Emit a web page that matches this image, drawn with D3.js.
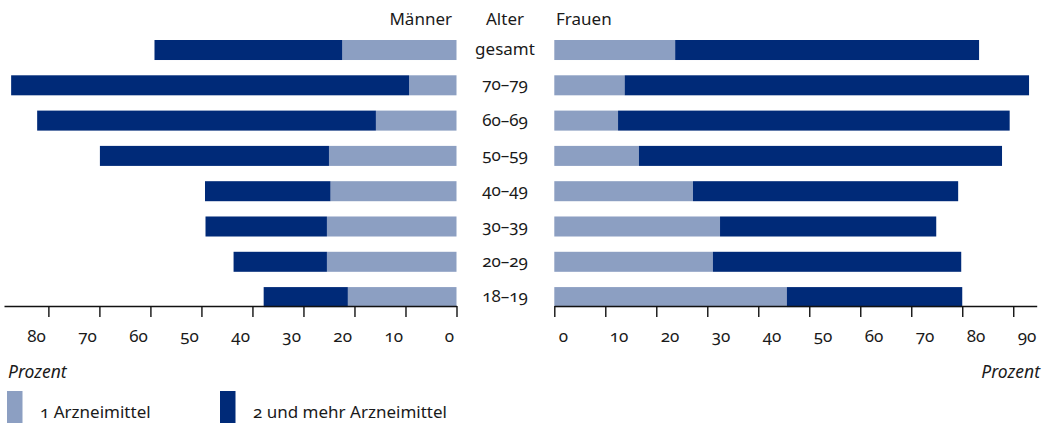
<!DOCTYPE html>
<html>
<head>
<meta charset="utf-8">
<script src="https://d3js.org/d3.v7.min.js"></script>
<style>
  body { margin: 0; background: #fff; }
  svg { display: block; font-family: "Noto Sans", "Open Sans", sans-serif; }
  text { fill: #1a1a1a; font-variant-numeric: oldstyle-nums; }
  .axis path, .axis line { stroke: #111; stroke-width: 1.4; }
  .axis text { font-size: 17px; }
</style>
</head>
<body>
<div id="chart"></div>
<script>
  // age groups, top to bottom
  var ageGroups = ["gesamt", "70–79", "60–69", "50–59", "40–49", "30–39", "20–29", "18–19"];

  // Männer: share with 1 drug and with 2+ drugs (percent)
  var menOne  = [22.4,  9.3, 15.8, 25.0, 24.7, 25.4, 25.4, 21.3];
  var menMore = [36.8, 78.0, 66.4, 44.9, 24.6, 23.8, 18.3, 16.5];

  // Frauen
  var womenOne  = [23.7, 13.8, 12.5, 16.6, 27.2, 32.5, 31.1, 45.6];
  var womenMore = [59.6, 79.3, 76.8, 71.2, 52.0, 42.4, 48.7, 34.4];

  var menTicks = [0, 10, 20, 30, 40, 50, 60, 70, 80];
  var womenTicks = [0, 10, 20, 30, 40, 50, 60, 70, 80, 90];

  var legendLabels = ["1 Arzneimittel", "2 und mehr Arzneimittel"];
  var colorOne = "#8c9fc2", colorMore = "#002a78";

  var width = 1052, height = 423,
    axisY = 306;

  var svg = d3.select("#chart").append("svg")
    .attr("width", width).attr("height", height);

  var xMen = d3.scaleLinear().domain([0, 88.7]).range([456.5, 4]);
  var xWomen = d3.scaleLinear().domain([0, 94.6]).range([554.3, 1036.7]);

  var y = d3.scaleBand().domain(ageGroups)
    .range([40, 307.1]).paddingInner(0.433).paddingOuter(0);

  var rows = ageGroups.map(function (g, i) {
    return {group: g, m1: menOne[i], m2: menMore[i], w1: womenOne[i], w2: womenMore[i]};
  });

  // men bars (growing leftwards)
  var men = svg.append("g");
  men.selectAll(".one").data(rows).enter().append("rect")
    .attr("x", function (d) { return xMen(d.m1); })
    .attr("y", function (d) { return y(d.group); })
    .attr("width", function (d) { return xMen(0) - xMen(d.m1); })
    .attr("height", y.bandwidth())
    .attr("fill", colorOne);
  men.selectAll(".more").data(rows).enter().append("rect")
    .attr("x", function (d) { return xMen(d.m1 + d.m2); })
    .attr("y", function (d) { return y(d.group); })
    .attr("width", function (d) { return xMen(d.m1) - xMen(d.m1 + d.m2); })
    .attr("height", y.bandwidth())
    .attr("fill", colorMore);

  // women bars
  var women = svg.append("g");
  women.selectAll(".one").data(rows).enter().append("rect")
    .attr("x", xWomen(0))
    .attr("y", function (d) { return y(d.group); })
    .attr("width", function (d) { return xWomen(d.w1) - xWomen(0); })
    .attr("height", y.bandwidth())
    .attr("fill", colorOne);
  women.selectAll(".more").data(rows).enter().append("rect")
    .attr("x", function (d) { return xWomen(d.w1); })
    .attr("y", function (d) { return y(d.group); })
    .attr("width", function (d) { return xWomen(d.w1 + d.w2) - xWomen(d.w1); })
    .attr("height", y.bandwidth())
    .attr("fill", colorMore);

  // age labels in the middle
  svg.append("g").selectAll("text").data(ageGroups).enter().append("text")
    .attr("x", 505)
    .attr("y", function (d) { return y(d) + y.bandwidth() / 2; })
    .attr("dy", "0.3em")
    .attr("text-anchor", "middle")
    .style("font-size", "17px")
    .text(function (d) { return d; });

  // headers
  svg.append("text").attr("x", 452).attr("y", 25).attr("text-anchor", "end")
    .style("font-size", "17px").text("Männer");
  svg.append("text").attr("x", 505).attr("y", 25).attr("text-anchor", "middle")
    .style("font-size", "17px").text("Alter");
  svg.append("text").attr("x", 556).attr("y", 25)
    .style("font-size", "17px").text("Frauen");

  // axes
  var axMen = svg.append("g").attr("class", "axis")
    .attr("transform", "translate(0," + axisY + ")")
    .call(d3.axisBottom(xMen).tickValues(menTicks).tickSize(11).tickSizeOuter(0));
  axMen.selectAll("text").attr("y", 36).attr("dy", 0).attr("x", -3)
    .attr("text-anchor", "end");

  var axWomen = svg.append("g").attr("class", "axis")
    .attr("transform", "translate(0," + axisY + ")")
    .call(d3.axisBottom(xWomen).tickValues(womenTicks).tickSize(11).tickSizeOuter(0));
  axWomen.selectAll("text").attr("y", 36).attr("dy", 0).attr("x", 4)
    .attr("text-anchor", "start");

  // let the page font (with old-style figures) apply to the tick labels
  svg.selectAll(".axis").attr("font-family", null).attr("font-size", null);
  svg.selectAll(".axis text").attr("fill", "#1a1a1a");

  // unit labels
  svg.append("text").attr("x", 8).attr("y", 378)
    .style("font-size", "17.5px").style("font-style", "italic").text("Prozent");
  svg.append("text").attr("x", 1040).attr("y", 378).attr("text-anchor", "end")
    .style("font-size", "17.5px").style("font-style", "italic").text("Prozent");

  // legend
  var legend = svg.append("g").selectAll("g")
    .data([{label: legendLabels[0], color: colorOne, x: 7},
           {label: legendLabels[1], color: colorMore, x: 220}])
    .enter().append("g");
  legend.append("rect")
    .attr("x", function (d) { return d.x; })
    .attr("y", 391).attr("width", 15.5).attr("height", 32)
    .attr("fill", function (d) { return d.color; });
  legend.append("text")
    .attr("x", function (d) { return d.x + 33; })
    .attr("y", 418)
    .style("font-size", "17px")
    .text(function (d) { return d.label; });
</script>
</body>
</html>
